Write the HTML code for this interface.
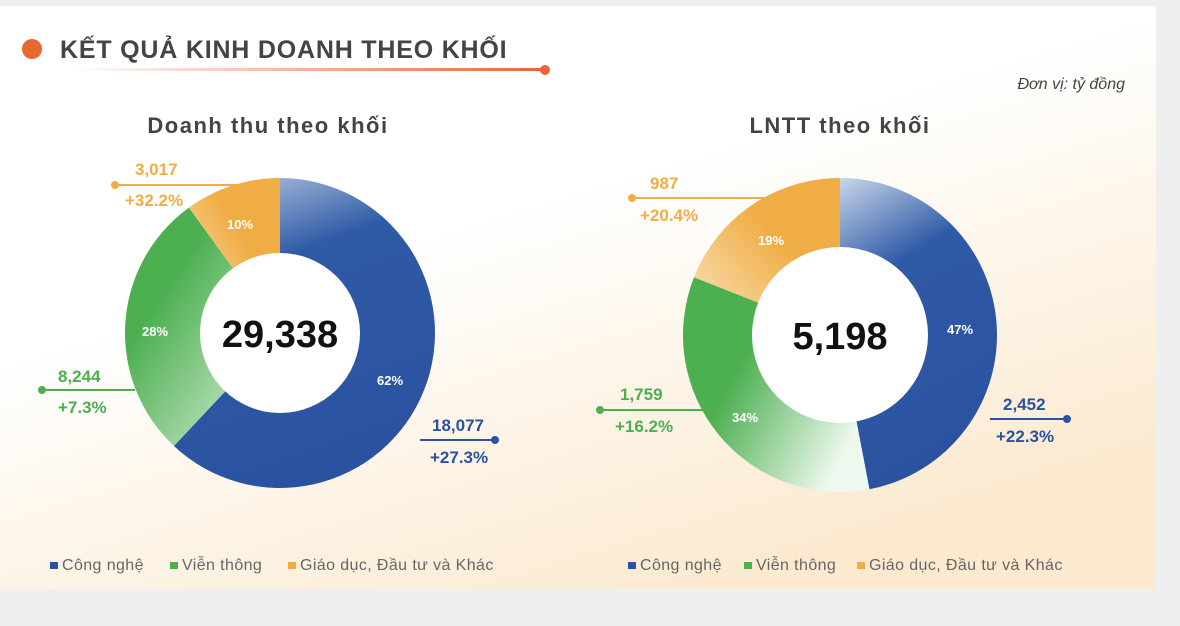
<!DOCTYPE html>
<html><head><meta charset="utf-8"><style>
body{margin:0;width:1180px;height:621px;background:#efefef;overflow:hidden;font-family:"Liberation Sans",sans-serif}
</style></head><body>
<svg id="s" width="1180" height="621" xmlns="http://www.w3.org/2000/svg" font-family="Liberation Sans, sans-serif">
<defs>
<linearGradient id="bg" x1="0" y1="0" x2="0.6" y2="1"><stop offset="0.45" stop-color="#ffffff"/><stop offset="1" stop-color="#fbead0"/></linearGradient>
<linearGradient id="bl" x1="0" y1="0" x2="0.3" y2="1"><stop offset="0" stop-color="#c9d6ea"/><stop offset="0.35" stop-color="#2f5aa6"/><stop offset="1" stop-color="#2a52a0"/></linearGradient>
<linearGradient id="gr" x1="0" y1="0" x2="1" y2="1"><stop offset="0.3" stop-color="#4caf50"/><stop offset="1" stop-color="#e6f4e6"/></linearGradient>
<linearGradient id="gr2" x1="0" y1="0" x2="1" y2="0.6"><stop offset="0.4" stop-color="#4caf50"/><stop offset="1" stop-color="#eef8ee"/></linearGradient>
<linearGradient id="or" x1="1" y1="0" x2="0" y2="1"><stop offset="0.4" stop-color="#f0ad45"/><stop offset="1" stop-color="#fbe6c4"/></linearGradient>
<linearGradient id="ln" x1="0" y1="0" x2="1" y2="0"><stop offset="0" stop-color="#e8643a" stop-opacity="0"/><stop offset="1" stop-color="#e8643a"/></linearGradient>
</defs>
<rect x="0" y="6" width="1156" height="583" fill="url(#bg)"/>
<circle cx="32" cy="49" r="10" fill="#e8682e"/>
<text x="60" y="58" font-size="25" font-weight="bold" fill="#444" letter-spacing="0.8">KẾT QUẢ KINH DOANH THEO KHỐI</text>
<rect x="70" y="68" width="475" height="3" fill="url(#ln)"/>
<circle cx="545" cy="70" r="5" fill="#e8643a"/>
<text x="1125" y="89" font-size="16" font-style="italic" fill="#444" text-anchor="end">Đơn vị: tỷ đồng</text>
<text x="268" y="133" font-size="22" font-weight="bold" fill="#444" text-anchor="middle" letter-spacing="1.5">Doanh thu theo khối</text>
<text x="840" y="133" font-size="22" font-weight="bold" fill="#444" text-anchor="middle" letter-spacing="1.5">LNTT theo khối</text>
<line x1="115" y1="185" x2="280" y2="185" stroke="#f0ad45" stroke-width="2"/>
<line x1="632" y1="198" x2="840" y2="198" stroke="#f0ad45" stroke-width="2"/>
<g id="d"></g>
<g font-weight="bold" font-size="17">
<circle cx="115" cy="185" r="4" fill="#f0ad45"/>
<text x="135" y="175" fill="#f0ad45">3,017</text><text x="125" y="206" fill="#f0ad45">+32.2%</text>
<line x1="42" y1="390" x2="135" y2="390" stroke="#4caf50" stroke-width="2"/><circle cx="42" cy="390" r="4" fill="#4caf50"/>
<text x="58" y="382" fill="#4caf50">8,244</text><text x="58" y="413" fill="#4caf50">+7.3%</text>
<line x1="420" y1="440" x2="495" y2="440" stroke="#2a52a0" stroke-width="2"/><circle cx="495" cy="440" r="4" fill="#2a52a0"/>
<text x="432" y="431" fill="#2a52a0">18,077</text><text x="430" y="463" fill="#2a52a0">+27.3%</text>
<circle cx="632" cy="198" r="4" fill="#f0ad45"/>
<text x="650" y="189" fill="#f0ad45">987</text><text x="640" y="221" fill="#f0ad45">+20.4%</text>
<line x1="600" y1="410" x2="705" y2="410" stroke="#4caf50" stroke-width="2"/><circle cx="600" cy="410" r="4" fill="#4caf50"/>
<text x="620" y="400" fill="#4caf50">1,759</text><text x="615" y="432" fill="#4caf50">+16.2%</text>
<line x1="990" y1="419" x2="1067" y2="419" stroke="#2a52a0" stroke-width="2"/><circle cx="1067" cy="419" r="4" fill="#2a52a0"/>
<text x="1003" y="410" fill="#2a52a0">2,452</text><text x="996" y="442" fill="#2a52a0">+22.3%</text>
</g>
<g font-weight="bold" font-size="13" fill="#fff" text-anchor="middle">
<text x="390" y="385">62%</text><text x="155" y="336">28%</text><text x="240" y="229">10%</text>
<text x="960" y="334">47%</text><text x="745" y="422">34%</text><text x="771" y="245">19%</text>
</g>
<circle cx="280" cy="333" r="80" fill="#fff"/><circle cx="840" cy="335" r="88" fill="#fff"/>
<text x="280" y="347" font-size="38" font-weight="bold" fill="#111" text-anchor="middle">29,338</text>
<text x="840" y="349" font-size="38" font-weight="bold" fill="#111" text-anchor="middle">5,198</text>
<g font-size="16" fill="#666" letter-spacing="0.4">
<rect x="50" y="562" width="8" height="7" fill="#2a52a0"/><text x="62" y="570">Công nghệ</text>
<rect x="170" y="562" width="8" height="7" fill="#4caf50"/><text x="182" y="570">Viễn thông</text>
<rect x="288" y="562" width="8" height="7" fill="#f0ad45"/><text x="300" y="570">Giáo dục, Đầu tư và Khác</text>
<rect x="628" y="562" width="8" height="7" fill="#2a52a0"/><text x="640" y="570">Công nghệ</text>
<rect x="744" y="562" width="8" height="7" fill="#4caf50"/><text x="756" y="570">Viễn thông</text>
<rect x="857" y="562" width="8" height="7" fill="#f0ad45"/><text x="869" y="570">Giáo dục, Đầu tư và Khác</text>
</g>
</svg>
<script>
function arc(cx,cy,r,a0,a1){var p=function(a){return [cx+r*Math.sin(a*2*Math.PI),cy-r*Math.cos(a*2*Math.PI)]};var s=p(a0),e=p(a1);return "M"+cx+","+cy+"L"+s+"A"+r+","+r+" 0 "+((a1-a0)>0.5?1:0)+" 1 "+e+"Z";}
var g=document.getElementById('d'),h='';
[[280,333,155,[[0,.62,'bl'],[.62,.90,'gr'],[.90,1,'or']]],[840,335,157,[[0,.47,'bl'],[.47,.81,'gr2'],[.81,1,'or']]]].forEach(function(d){d[3].forEach(function(s){h+='<path d="'+arc(d[0],d[1],d[2],s[0],s[1])+'" fill="url(#'+s[2]+')"/>';});});
g.innerHTML=h;
</script>
</body></html>
